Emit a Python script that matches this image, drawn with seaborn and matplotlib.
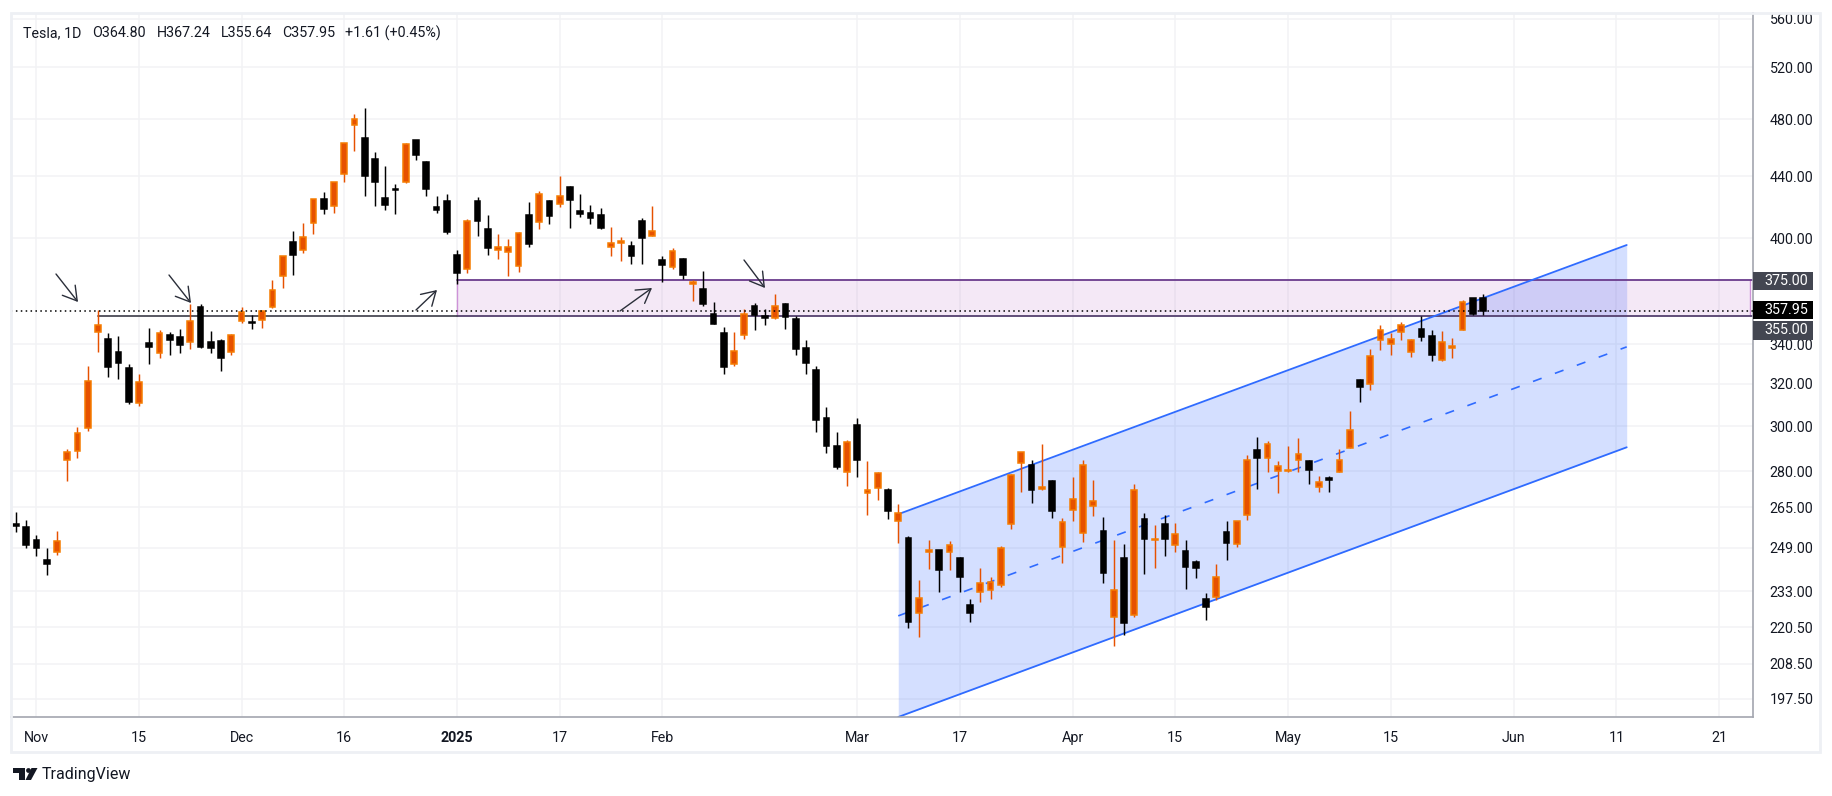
import numpy as np, pandas as pd
import matplotlib
matplotlib.use("Agg")
import matplotlib.pyplot as plt
import matplotlib.transforms as mtrans
from matplotlib.patches import Rectangle, Polygon, Circle
import seaborn as sns

opens = [258.0,257.0,252.0,244.5,247.3,284.67,288.9,299.1,346.3,342.74,335.85,327.69,310.57,340.73,335.76,345.0,343.81,341.09,360.14,341.0,341.8,336.08,
 352.38,351.8,353.0,359.87,377.42,397.61,392.68,409.7,424.84,420.0,441.09,475.9,466.5,451.88,425.51,431.0,435.9,465.16,449.52,419.83,423.79,
 390.1,381.48,423.2,405.83,392.95,391.4,383.21,414.34,409.9,423.49,421.5,432.64,416.81,416.06,414.45,394.8,396.91,395.21,410.78,401.53,
 386.68,382.63,387.51,373.03,370.19,356.21,345.8,329.94,345.0,360.62,355.01,354.0,361.51,353.44,338.14,327.02,303.71,291.16,279.5,
 300.34,270.93,272.92,272.06,259.32,252.54,225.31,247.22,248.13,247.31,245.06,228.16,232.75,233.34,234.99,258.08,283.6,282.66,272.48,275.58,249.31,
 263.8,254.6,265.29,255.38,223.78,245.0,224.69,260.0,251.84,258.36,249.91,247.61,243.47,230.26,230.96,254.86,250.5,261.69,288.98,285.5,279.9,
 280.01,284.9,284.57,273.11,276.88,279.63,290.21,321.99,320.0,342.5,340.34,346.24,336.3,347.87,344.43,331.9,337.92,347.35,364.84,364.80]
highs = [263.0,259.7,254.0,248.9,255.3,289.6,299.75,328.7,358.64,345.84,344.6,329.98,324.68,348.55,347.38,346.6,347.99,361.53,361.93,346.96,342.55,345.45,
 360.0,355.69,358.1,375.43,389.49,404.8,409.73,424.88,429.3,436.3,463.19,483.99,488.54,456.36,447.08,434.51,462.78,465.33,450.0,427.0,427.93,
 392.73,411.88,426.43,414.33,402.5,399.28,403.79,422.64,429.8,424.0,439.74,433.2,428.0,420.73,418.88,406.69,400.59,398.59,412.5,419.99,
 389.17,394.0,388.39,375.4,380.55,362.7,349.37,346.4,358.69,362.0,359.1,367.34,362.3,354.98,342.4,328.89,309.0,297.23,293.88,
 303.94,284.35,279.55,272.65,266.25,253.37,237.06,251.84,248.3,251.58,245.4,230.1,241.37,238.0,249.52,278.64,288.2,284.9,291.85,276.1,260.56,
 277.45,284.99,276.3,261.0,252.0,250.44,274.69,262.49,257.74,261.8,258.75,251.97,244.34,232.21,242.79,259.45,259.54,286.85,294.86,293.32,284.45,
 290.87,294.78,284.85,277.73,277.92,289.8,307.04,322.21,337.59,350.0,346.14,351.62,343.0,354.99,347.35,347.27,343.18,363.79,365.0,367.24]
lows = [255.0,249.0,246.0,238.9,246.4,275.6,285.5,297.66,336.0,323.31,322.5,310.37,309.22,330.0,332.75,334.3,335.28,337.7,338.2,335.66,326.59,334.65,
 351.15,348.2,348.6,359.5,370.8,378.01,390.85,402.38,415.0,415.71,436.15,457.51,427.01,420.02,417.64,415.41,435.14,451.02,426.5,415.75,402.54,
 373.04,379.45,401.7,390.0,387.4,377.29,380.07,394.54,405.66,409.13,419.75,406.31,413.36,408.95,405.78,389.0,386.5,384.48,384.41,401.34,
 374.36,381.4,375.53,363.18,360.34,350.51,325.1,329.12,342.85,347.5,350.02,353.67,348.0,334.42,324.7,297.25,288.04,280.88,273.6,
 277.3,261.84,267.71,260.02,250.73,220.27,217.02,241.1,232.6,240.73,232.8,222.28,229.2,230.05,234.55,256.33,271.28,266.51,271.82,260.57,243.36,
 259.25,251.27,261.51,236.0,214.25,217.8,223.88,239.33,241.36,245.93,247.54,233.89,237.68,222.79,229.85,244.43,249.2,259.63,272.42,279.47,270.78,
 279.81,279.81,274.4,271.35,271.0,279.41,290.0,311.5,316.8,337.0,334.72,342.33,333.37,341.63,331.33,331.39,333.21,347.32,355.91,355.64]
closes = [257.5,249.85,248.98,242.84,251.44,288.53,296.91,321.22,350.0,328.49,330.24,311.18,320.72,338.74,346.0,342.03,339.64,352.56,338.59,338.23,332.89,345.16,
 357.09,351.42,357.93,369.49,389.22,389.79,400.99,424.77,418.1,436.23,463.02,479.86,440.13,436.17,421.06,430.6,462.28,454.13,431.66,417.41,403.84,
 379.28,410.44,411.05,394.36,394.94,394.74,403.31,396.36,428.22,413.82,426.5,424.07,415.11,412.38,406.58,397.15,398.09,389.1,400.28,404.6,
 383.68,392.21,378.17,374.32,361.62,350.73,328.5,336.51,355.94,355.84,354.11,360.56,354.4,337.8,330.53,302.8,290.8,281.95,292.98,
 284.65,272.04,279.1,263.45,262.67,222.15,230.58,248.09,240.68,249.98,238.01,225.31,235.86,236.26,248.71,278.39,288.14,272.06,273.13,263.55,259.16,
 268.46,282.76,267.28,239.43,233.29,221.86,272.2,252.4,252.31,252.35,254.11,241.55,241.37,227.5,237.97,250.74,259.51,284.95,285.88,292.03,282.16,
 280.52,287.21,280.26,275.35,276.22,284.82,298.26,318.38,334.07,347.68,342.82,349.98,342.09,343.82,334.62,341.04,339.34,362.89,356.34,357.95]

y_ticks = [197.5,208.5,220.5,233,249,265,280,300,320,340,400,440,480,520,560]
x_tick_pos = [2,12,22,32,43,53,63,82,92,103,113,124,134,146,156,166]
x_tick_lab = ["Nov","15","Dec","16","2025","17","Feb","Mar","17","Apr","15","May","15","Jun","11","21"]

zone_bars = [43, 169]
zone_prices = [355.0, 375.0]
last_price = 357.95
channel_bars = [86, 157]
channel_upper = [262.1, 395.9]
channel_mid = [224.3, 338.7]
channel_lower = [192.1, 290.4]
support_start_bar = 8
header_parts = ["Tesla, 1D", "O364.80", "H367.24", "L355.64", "C357.95", "+1.61 (+0.45%)"]

W, H = 1833, 796
ORANGE, ORANGE_E, BLACK = "#E65100", "#F57C00", "#000000"
BLUE = "#2F6BFF"
INK = "#131722"
GRID = "#F2F3F5"
FS = 10.3

sns.set_theme(style="white")
plt.rcParams["font.family"] = ["Roboto", "DejaVu Sans"]

df = pd.DataFrame({"open": opens, "high": highs, "low": lows, "close": closes})
df["bar"] = np.arange(len(df))
df["dir"] = np.where(df.close >= df.open, "up", "down")
wicks = df.melt(id_vars=["bar", "dir"], value_vars=["low", "high"], value_name="price")

fig = plt.figure(figsize=(W/100, H/100), dpi=100, facecolor="white")
L, R, T, B = 11, 1753, 13, 717
ax = fig.add_axes([L/W, 1-B/H, (R-L)/W, (B-T)/H])
PX = 10.26
x_first = 36.4 - 2*PX
ax.set_yscale("log")
ax.set_xlim((L-x_first)/PX, (R-x_first)/PX)
ax.set_ylim(192.1, 564.9)

ax.set_axisbelow(True)
ax.set_yticks(y_ticks)
ax.set_yticklabels([f"{v:.2f}" for v in y_ticks], fontsize=FS, color=INK)
ax.yaxis.set_minor_locator(matplotlib.ticker.NullLocator())
ax.yaxis.tick_right()
ax.set_xticks(x_tick_pos)
ax.set_xticklabels(x_tick_lab, fontsize=FS, color=INK)
for t in ax.get_xticklabels():
    if t.get_text() == "2025":
        t.set_fontweight("bold")
ax.tick_params(axis="both", length=0, pad=10)
ax.tick_params(axis="y", pad=12)
ax.grid(True, color=GRID, lw=1.1)
for s in ("left", "top"):
    ax.spines[s].set_visible(False)
for s in ("right", "bottom"):
    ax.spines[s].set_color("#A3A6AF")
    ax.spines[s].set_linewidth(1.2)

# drawings
ax.fill_between(channel_bars, channel_lower, channel_upper, color="#2962FF", alpha=0.2, lw=0, zorder=1)
ax.fill_between(zone_bars, zone_prices[0], zone_prices[1], color="#9C27B0", alpha=0.1, lw=0, zorder=1.1)
ax.plot([zone_bars[0]]*2, zone_prices, color="#CE93D8", lw=1, zorder=1.2)
ax.plot([zone_bars[1]]*2, zone_prices, color="#CE93D8", lw=1, zorder=1.2)
ax.plot([zone_bars[0], 175], [zone_prices[1]]*2, color="#6A3B8C", lw=1.3, zorder=1.3)
ax.plot([zone_bars[0], 175], [zone_prices[0]]*2, color="#54406E", lw=1.3, zorder=1.3)
ax.plot([support_start_bar, zone_bars[0]], [zone_prices[0]]*2, color="#4A4A55", lw=1.3, zorder=1.3)
for line in (channel_upper, channel_lower):
    ax.plot(channel_bars, line, color=BLUE, lw=1.3, zorder=1.4)
ax.plot(channel_bars, channel_mid, color=BLUE, lw=1.2, ls=(0, (5.5, 8.5)), zorder=1.4)

# candles
sns.lineplot(data=wicks, x="bar", y="price", units="bar", estimator=None, hue="dir",
             palette={"up": ORANGE, "down": BLACK}, lw=1.05, legend=False, ax=ax, zorder=3,
             solid_capstyle="butt")
body_low = df[["open", "close"]].min(axis=1)
body_high = df[["open", "close"]].max(axis=1)
for d, fc, ec in (("up", ORANGE, ORANGE_E), ("down", BLACK, BLACK)):
    m = df.dir == d
    ax.bar(df.bar[m], (body_high - body_low)[m].clip(lower=0.6), bottom=body_low[m],
           width=0.56, color=fc, edgecolor=ec, lw=1.1, zorder=4)
ax.set_xlim((L-x_first)/PX, (R-x_first)/PX)
ax.set_ylim(192.1, 564.9)
ax.set_xlabel(""); ax.set_ylabel("")

ax.axhline(last_price, color="black", lw=1.1, ls=(0, (1, 2.2)), zorder=5)

# pixel-space decorations
px = mtrans.Affine2D().scale(1, -1).translate(0, H)
for a, b in (((56, 274), (78, 302)), ((169, 275), (191, 303)), ((416, 310), (437, 290)),
             ((620, 311), (652, 288)), ((744, 260), (765, 288))):
    ax.annotate("", xy=b, xytext=a, xycoords=px, textcoords=px,
                arrowprops=dict(arrowstyle="->,head_length=0.7,head_width=0.42", color="#2A2E39", lw=1.0,
                                shrinkA=0, shrinkB=0, mutation_scale=14), zorder=6)

fig.patches.append(Rectangle((0, 0), W, 12, transform=px, fc="white", ec="none", zorder=5))
fig.patches.append(Rectangle((11, 13), 1809, 739, transform=px, fc="none", ec="#EEF0F4", lw=2, zorder=6))

for label, y0, y1, col in (("375.00", 272, 290, "#434651"), ("355.00", 321, 340, "#434651"), ("357.95", 301, 319, "#000000")):
    fig.patches.append(Rectangle((1753, y0), 60, y1-y0, transform=px, fc=col, ec="none", zorder=7))
    fig.text(1786, (y0+y1)/2, label, transform=px, color="white", fontsize=FS, ha="center", va="center", zorder=8)

for xp, part in zip((23, 92.5, 157, 220.6, 282, 345), header_parts):
    fig.text(xp, 33, part, transform=px, fontsize=FS, color=INK, va="center", ha="left")

# TradingView mark
fig.patches.append(Polygon([(13, 768), (25, 768), (25, 780), (19, 780), (19, 773), (13, 773)], transform=px, fc=INK, ec="none", zorder=7))
fig.patches.append(Circle((28.5, 770.5), 2.4, transform=px, fc=INK, ec="none", zorder=7))
fig.patches.append(Polygon([(31.5, 768), (37.5, 768), (31, 780), (25.5, 780)], transform=px, fc=INK, ec="none", zorder=7))
fig.text(42, 775, "TradingView", transform=px, fontsize=11.5, color=INK, va="center", ha="left")

fig.savefig("out.png", dpi=100, facecolor="white")
